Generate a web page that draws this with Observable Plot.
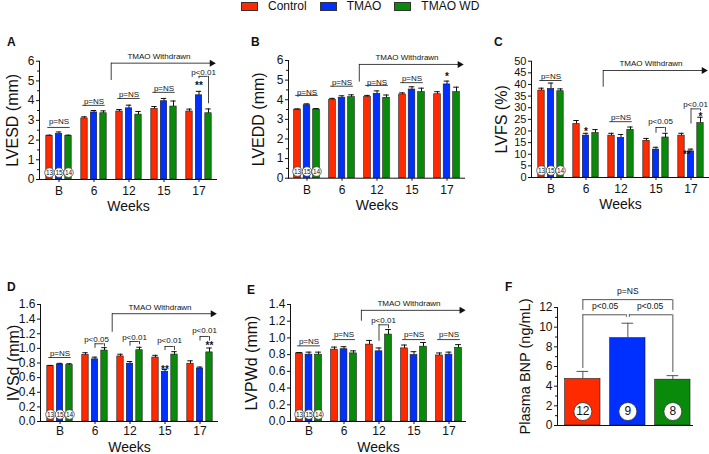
<!DOCTYPE html>
<html><head><meta charset="utf-8">
<script src="https://cdn.jsdelivr.net/npm/d3@7"></script>
<script src="https://cdn.jsdelivr.net/npm/@observablehq/plot@0.6"></script>
<style>
body{margin:0;background:#fff;font-family:"Liberation Sans",Arial,sans-serif;color:#111;}
#root{position:relative;width:709px;height:454px;overflow:hidden;background:#fff;}
.panel{position:absolute;}
.panel svg{overflow:visible;}
.letter{position:absolute;font-weight:bold;font-size:12px;line-height:12px;}
#legend{position:absolute;left:241px;top:0px;display:flex;gap:13px;font-size:12px;line-height:13px;}
.item{display:flex;align-items:center;}
.sw{width:15px;height:7px;border:0.8px solid #333;margin-right:10px;}
</style>
</head><body><div id="root"><div id="legend"></div></div>
<script>
// ---------- data ----------
const weeks = ["B", "6", "12", "15", "17"];
const groups = ["Control", "TMAO", "TMAO WD"];
const groupColors = ["#ff2a00", "#0030ff", "#0a8a0a"];
const baselineN = [13, 15, 14];

// A: LVESD (mm)
const lvesdControl = [2.2, 3.1, 3.45, 3.58, 3.45];
const lvesdTmao    = [2.31, 3.4, 3.61, 3.97, 4.27];
const lvesdTmaoWd  = [2.2, 3.36, 3.29, 3.7, 3.36];
const lvesdErrControl = [0.05, 0.08, 0.1, 0.12, 0.12];
const lvesdErrTmao    = [0.1, 0.1, 0.16, 0.14, 0.2];
const lvesdErrTmaoWd  = [0.05, 0.12, 0.16, 0.28, 0.22];

// B: LVEDD (mm)
const lveddControl = [3.5, 4.0, 4.15, 4.27, 4.28];
const lveddTmao    = [3.72, 4.1, 4.3, 4.52, 4.78];
const lveddTmaoWd  = [3.5, 4.13, 4.1, 4.39, 4.39];
const lveddErrControl = [0.03, 0.07, 0.07, 0.08, 0.13];
const lveddErrTmao    = [0.07, 0.1, 0.15, 0.14, 0.17];
const lveddErrTmaoWd  = [0.05, 0.12, 0.14, 0.2, 0.25];

// C: LVFS (%)
const lvfsControl = [37.4, 23, 18, 15.8, 18];
const lvfsTmao    = [38.1, 18, 17, 12, 11.2];
const lvfsTmaoWd  = [37.1, 19.1, 20.5, 17.2, 23.4];
const lvfsErrControl = [1, 1.5, 1, 1, 1];
const lvfsErrTmao    = [2.5, 1, 1.5, 1, 1];
const lvfsErrTmaoWd  = [1, 1.5, 1.2, 1.8, 2.5];

// D: IVSd (mm)
const ivsdControl = [0.757, 0.91, 0.89, 0.875, 0.79];
const ivsdTmao    = [0.78, 0.85, 0.79, 0.68, 0.725];
const ivsdTmaoWd  = [0.77, 0.97, 0.975, 0.915, 0.945];
const ivsdErrControl = [0.01, 0.03, 0.03, 0.03, 0.04];
const ivsdErrTmao    = [0.015, 0.03, 0.03, 0.03, 0.02];
const ivsdErrTmaoWd  = [0.02, 0.04, 0.04, 0.04, 0.06];

// E: LVPWd (mm)
const lvpwdControl = [0.815, 0.86, 0.92, 0.875, 0.79];
const lvpwdTmao    = [0.80, 0.865, 0.84, 0.795, 0.80];
const lvpwdTmaoWd  = [0.80, 0.815, 1.04, 0.895, 0.88];
const lvpwdErrControl = [0.01, 0.03, 0.05, 0.04, 0.03];
const lvpwdErrTmao    = [0.03, 0.03, 0.04, 0.04, 0.03];
const lvpwdErrTmaoWd  = [0.03, 0.03, 0.06, 0.05, 0.04];

// F: Plasma BNP (ng/mL)
const bnpMean = [4.73, 8.88, 4.66];
const bnpErr  = [0.77, 1.52, 0.41];
const bnpN    = [12, 9, 8];

// ---------- annotations (data units) ----------
const lvesdNS = [{week: "B", line: 2.64, ty: 2.94}, {week: "6", line: 3.76, ty: 3.96}, {week: "12", line: 4.11, ty: 4.31}, {week: "15", line: 4.42, ty: 4.62}];
const lvesdBrackets = [{week: "17", label: "p<0.01", ty: 5.43, top: 5.23, left: 5.11, right: 3.84}];
const lvesdStars = [{week: "17", group: "TMAO", y: 4.76, label: "**"}];
const lvesdArrow = {low: 5.02, high: 5.9, ty: 6.24};

const lveddNS = [{week: "B", line: 4.22, ty: 4.39}, {week: "6", line: 4.69, ty: 4.87}, {week: "12", line: 4.73, ty: 4.9}, {week: "15", line: 4.87, ty: 5.07}];
const lveddBrackets = [];
const lveddStars = [{week: "17", group: "TMAO", y: 5.17, label: "*"}];
const lveddArrow = {low: 4.9, high: 5.8, ty: 6.15};

const lvfsNS = [{week: "B", line: 41.7, ty: 43.4}, {week: "12", line: 24, ty: 25.8}];
const lvfsBrackets = [{week: "15", label: "p<0.05", ty: 24.1, top: 21.5, left: 19, right: 19.5},
                      {week: "17", label: "p<0.01", ty: 31.4, top: 29.5, left: 23, right: 28.5}];
const lvfsStars = [{week: "6", group: "TMAO", y: 19.8, label: "*"}, {week: "17", group: "TMAO WD", y: 26.2, label: "*"},
                   {week: "17", group: "TMAO", y: 9.6, label: "**", shift: -4}];
const lvfsArrow = {low: 38.8, high: 46, ty: 49};

const ivsdNS = [{week: "B", line: 0.875, ty: 0.93}];
const ivsdBrackets = [{week: "6", label: "p<0.05", ty: 1.12, top: 1.063, left: 1.0, right: 1.02, shift: 1.5},
                      {week: "12", label: "p<0.01", ty: 1.15, top: 1.094, left: 1.03, right: 1.05},
                      {week: "15", label: "p<0.01", ty: 1.108, top: 1.026, left: 0.97, right: 0.97},
                      {week: "17", label: "p<0.01", ty: 1.245, top: 1.163, left: 1.1, right: 1.1}];
const ivsdStars = [{week: "15", group: "TMAO", y: 0.707, label: "**"}, {week: "17", group: "TMAO WD", y: 1.036, label: "**"}];
const ivsdArrow = {low: 1.22, high: 1.474, ty: 1.56};

const lvpwdNS = [{week: "B", line: 0.905, ty: 0.96}, {week: "6", line: 0.98, ty: 1.037}, {week: "15", line: 0.98, ty: 1.037}, {week: "17", line: 0.98, ty: 1.037}];
const lvpwdBrackets = [{week: "12", label: "p<0.01", ty: 1.21, top: 1.157, left: 0.96, right: 1.11}];
const lvpwdStars = [];
const lvpwdArrow = {low: 1.2, high: 1.33, ty: 1.415};

// ---------- layout helpers ----------
const STEP = 9.5, BARW = 7;
const offs = [-STEP, 0, STEP];
const INK = "#111";
const FONT = "'Liberation Sans', Arial, sans-serif";
const root = document.getElementById("root");

// legend
const legend = document.getElementById("legend");
groups.forEach((g, i) => {
  const it = document.createElement("div"); it.className = "item";
  const sw = document.createElement("div"); sw.className = "sw"; sw.style.background = groupColors[i];
  const tx = document.createElement("span"); tx.textContent = g;
  it.appendChild(sw); it.appendChild(tx); legend.appendChild(it);
});

function place(node, left, top) {
  const d = document.createElement("div"); d.className = "panel";
  d.style.left = left + "px"; d.style.top = top + "px";
  d.appendChild(node); root.appendChild(d);
}
function letter(t, left, top) {
  const d = document.createElement("div"); d.className = "letter";
  d.style.left = left + "px"; d.style.top = top + "px"; d.textContent = t; root.appendChild(d);
}

function weekPanel(cfg) {
  const fw = cfg.width - cfg.ml - cfg.mr;
  const bw = fw / weeks.length;
  const rows = [];
  groups.forEach((g, gi) => weeks.forEach((w, wi) => rows.push({week: w, group: g, gi, value: cfg.values[gi][wi], err: cfg.errors[gi][wi]})));
  const marks = [];
  marks.push(Plot.axisY({ticks: cfg.major, tickSize: 3, tickPadding: 2, tickFormat: cfg.fmt, fontSize: cfg.tickFont || 12, label: null}));
  if (cfg.minor) marks.push(Plot.axisY({ticks: cfg.minor, tickSize: 2, tickFormat: () => "", label: null}));
  marks.push(Plot.axisX({tickSize: 3, tickPadding: cfg.xPad ?? 4, fontSize: 12, label: null}));
  groups.forEach((g, gi) => {
    const rg = rows.filter(d => d.gi === gi);
    marks.push(Plot.barY(rg, {x: "week", y: "value", fill: groupColors[gi], stroke: "#1a1a1a", strokeWidth: 0.6,
      insetLeft: bw / 2 + offs[gi] - BARW / 2, insetRight: bw / 2 - offs[gi] - BARW / 2}));
    marks.push(Plot.ruleX(rg, {x: "week", y1: "value", y2: d => d.value + d.err, dx: offs[gi], stroke: INK}));
    marks.push(Plot.tickY(rg, {x: "week", y: d => d.value + d.err, insetLeft: bw / 2 + offs[gi] - 3, insetRight: bw / 2 - offs[gi] - 3, stroke: INK}));
  });
  marks.push(Plot.frame({anchor: "left", stroke: INK}));
  marks.push(Plot.ruleY([0], {stroke: INK}));
  // baseline n circles
  baselineN.forEach((n, gi) => {
    marks.push(Plot.dot([n], {x: () => weeks[0], y: () => cfg.circleY, dx: offs[gi], r: 4.8, fill: "white", stroke: "#333", strokeWidth: 0.7}));
    marks.push(Plot.text([n], {x: () => weeks[0], y: () => cfg.circleY, dx: offs[gi], text: d => String(d), fontSize: 6.5, fill: INK}));
  });
  // p=NS lines
  marks.push(Plot.tickY(cfg.ns, {x: "week", y: "line", insetLeft: bw / 2 - STEP - 2, insetRight: bw / 2 - STEP - 2, stroke: INK, strokeWidth: 0.8}));
  marks.push(Plot.text(cfg.ns, {x: "week", y: "ty", text: () => "p=NS", fontSize: 8, fill: INK}));
  // brackets TMAO vs TMAO WD
  cfg.brackets.forEach(b => {
    marks.push(Plot.tickY([b], {x: "week", y: "top", insetLeft: bw / 2, insetRight: bw / 2 - STEP, stroke: INK, strokeWidth: 0.8}));
    marks.push(Plot.ruleX([b], {x: "week", y1: "top", y2: "left", stroke: INK, strokeWidth: 0.8}));
    marks.push(Plot.ruleX([b], {x: "week", y1: "top", y2: "right", dx: STEP, stroke: INK, strokeWidth: 0.8}));
    marks.push(Plot.text([b], {x: "week", y: "ty", text: "label", dx: b.shift ?? 4.5, fontSize: 8, fill: INK}));
  });
  cfg.stars.forEach(s => {
    marks.push(Plot.text([s], {x: "week", y: "y", text: "label", dx: offs[groups.indexOf(s.group)] + (s.shift || 0), fontSize: 10, fontWeight: "bold", fill: INK}));
  });
  // TMAO withdrawn arrow
  const a = cfg.arrow;
  marks.push(Plot.ruleX([a], {x: () => "12", y1: "low", y2: "high", dx: -bw / 2, stroke: INK, strokeWidth: 0.8}));
  marks.push(Plot.ruleY([a], {x1: () => "12", x2: () => "17", y: "high", insetLeft: 0, insetRight: 5, stroke: INK, strokeWidth: 0.8}));
  marks.push(Plot.dot([a], {x: () => "17", y: "high", dx: bw / 2 - 5, symbol: "triangle", r: 2.6, rotate: 90, fill: INK, stroke: "none"}));
  marks.push(Plot.text([a], {x: () => "15", y: "ty", text: () => "TMAO Withdrawn", dx: -5, fontSize: 8, fill: INK}));
  // titles
  marks.push(Plot.text([cfg.ylabel], {frameAnchor: "left", rotate: -90, textAnchor: "middle", lineAnchor: "top", dx: cfg.yOff, fontSize: cfg.yFont || 16, fill: INK}));
  marks.push(Plot.text(["Weeks"], {frameAnchor: "bottom", textAnchor: "middle", lineAnchor: "top", dy: cfg.wOff ?? 21.5, fontSize: 14, fill: INK}));

  const svg = Plot.plot({
    width: cfg.width, height: cfg.height,
    marginLeft: cfg.ml, marginRight: cfg.mr, marginTop: cfg.mt, marginBottom: cfg.mb,
    style: {fontFamily: FONT, color: INK, background: "transparent", overflow: "visible"},
    x: {type: "band", domain: weeks, padding: 0},
    y: {domain: [0, cfg.ymax]},
    marks
  });
  place(svg, cfg.left, cfg.top);
}

weekPanel({left: 0, top: 30, width: 240, height: 190, ml: 39, mr: 23, mt: 30.7, mb: 41,
  ymax: 6, major: d3.range(0, 6.01, 1), minor: d3.range(0.5, 6, 1), fmt: d3.format("d"),
  ylabel: "LVESD (mm)", yOff: -33, circleY: 0.35,
  values: [lvesdControl, lvesdTmao, lvesdTmaoWd], errors: [lvesdErrControl, lvesdErrTmao, lvesdErrTmaoWd],
  ns: lvesdNS, brackets: lvesdBrackets, stars: lvesdStars, arrow: lvesdArrow});

weekPanel({left: 240, top: 30, width: 240, height: 190, ml: 48, mr: 15, mt: 30, mb: 42.3,
  ymax: 6, major: d3.range(0, 6.01, 1), minor: d3.range(0.5, 6, 1), fmt: d3.format("d"),
  ylabel: "LVEDD (mm)", yOff: -36, circleY: 0.34,
  values: [lveddControl, lveddTmao, lveddTmaoWd], errors: [lveddErrControl, lveddErrTmao, lveddErrTmaoWd],
  ns: lveddNS, brackets: lveddBrackets, stars: lveddStars, arrow: lveddArrow});

weekPanel({left: 480, top: 30, width: 229, height: 190, ml: 51, mr: 0, mt: 30.7, mb: 43,
  ymax: 50, major: d3.range(0, 50.1, 5), minor: null, fmt: d3.format("d"), tickFont: 11,
  ylabel: "LVFS (%)", yOff: -36, circleY: 3.0,
  values: [lvfsControl, lvfsTmao, lvfsTmaoWd], errors: [lvfsErrControl, lvfsErrTmao, lvfsErrTmaoWd],
  ns: lvfsNS, brackets: lvfsBrackets, stars: lvfsStars, arrow: lvfsArrow});

weekPanel({left: 0, top: 270, width: 240, height: 184, ml: 40, mr: 22, mt: 34, mb: 33,
  ymax: 1.6, major: d3.range(0, 1.61, 0.2), minor: null, fmt: d3.format(".1f"),
  ylabel: "IVSd (mm)", yOff: -33, circleY: 0.096, wOff: 21, xPad: 2,
  values: [ivsdControl, ivsdTmao, ivsdTmaoWd], errors: [ivsdErrControl, ivsdErrTmao, ivsdErrTmaoWd],
  ns: ivsdNS, brackets: ivsdBrackets, stars: ivsdStars, arrow: ivsdArrow});

weekPanel({left: 240, top: 270, width: 240, height: 184, ml: 50, mr: 14, mt: 34, mb: 33,
  ymax: 1.4, major: d3.range(0, 1.41, 0.2), minor: null, fmt: d3.format(".1f"),
  ylabel: "LVPWd (mm)", yOff: -45, circleY: 0.084, wOff: 21, xPad: 2,
  values: [lvpwdControl, lvpwdTmao, lvpwdTmaoWd], errors: [lvpwdErrControl, lvpwdErrTmao, lvpwdErrTmaoWd],
  ns: lvpwdNS, brackets: lvpwdBrackets, stars: lvpwdStars, arrow: lvpwdArrow});

// F: Plasma BNP
(function () {
  const width = 229, height = 184, ml = 77, mr = 16, mt = 37, mb = 29;
  const bw = (width - ml - mr) / groups.length;
  const c = 1.85; // bar centre offset inside band
  const GRAY = "#555";
  const rows = groups.map((g, i) => ({group: g, value: bnpMean[i], err: bnpErr[i], n: bnpN[i], color: groupColors[i]}));
  const bracket = {inner: 11.26, tick: 11.0, outer: 12.8, outerLeg: 11.7, redLeg: 5.8, greenLeg: 5.4, labelY: 12.1, nsY: 13.7};
  const marks = [
    Plot.axisY({ticks: d3.range(0, 12.1, 2), tickSize: 3, tickPadding: 2, fontSize: 12, label: null}),
    Plot.axisY({ticks: d3.range(1, 12, 2), tickSize: 2, tickFormat: () => "", label: null}),
    Plot.barY(rows, {x: "group", y: "value", fill: "color", stroke: "#1a1a1a", strokeWidth: 0.6, insetLeft: 6.7, insetRight: 3}),
    Plot.ruleX(rows, {x: "group", y1: "value", y2: d => d.value + d.err, dx: c, stroke: GRAY}),
    Plot.tickY(rows, {x: "group", y: d => d.value + d.err, insetLeft: bw / 2 + c - 6, insetRight: bw / 2 - c - 6, stroke: GRAY}),
    Plot.frame({anchor: "left", stroke: INK}),
    Plot.ruleY([0], {stroke: INK}),
    Plot.dot(rows, {x: "group", y: () => 1.42, dx: c, r: 9, fill: "white", stroke: "#333", strokeWidth: 0.8}),
    Plot.text(rows, {x: "group", y: () => 1.42, dx: c, text: d => String(d.n), fontSize: 12, fill: INK}),
    // inner brackets
    Plot.ruleY([bracket], {x1: () => groups[0], x2: () => groups[1], y: "inner", insetLeft: bw / 2 + c, insetRight: bw / 2 - c + 1.5, stroke: GRAY}),
    Plot.ruleY([bracket], {x1: () => groups[1], x2: () => groups[2], y: "inner", insetLeft: bw / 2 + c + 1.5, insetRight: bw / 2 - c, stroke: GRAY}),
    Plot.ruleX([bracket], {x: () => groups[0], y1: "inner", y2: "redLeg", dx: c, stroke: GRAY}),
    Plot.ruleX([bracket], {x: () => groups[2], y1: "inner", y2: "greenLeg", dx: c, stroke: GRAY}),
    Plot.ruleX([bracket], {x: () => groups[1], y1: "inner", y2: "tick", dx: c - 1.5, stroke: GRAY}),
    Plot.ruleX([bracket], {x: () => groups[1], y1: "inner", y2: "tick", dx: c + 1.5, stroke: GRAY}),
    // outer bracket
    Plot.ruleY([bracket], {x1: () => groups[0], x2: () => groups[2], y: "outer", insetLeft: bw / 2 + c, insetRight: bw / 2 - c, stroke: GRAY}),
    Plot.ruleX([bracket], {x: () => groups[0], y1: "outer", y2: "outerLeg", dx: c, stroke: GRAY}),
    Plot.ruleX([bracket], {x: () => groups[2], y1: "outer", y2: "outerLeg", dx: c, stroke: GRAY}),
    Plot.text([bracket], {x: () => groups[1], y: "labelY", dx: -bw / 2 + c, text: () => "p<0.05", fontSize: 8.5, fill: INK}),
    Plot.text([bracket], {x: () => groups[2], y: "labelY", dx: -bw / 2 + c, text: () => "p<0.05", fontSize: 8.5, fill: INK}),
    Plot.text([bracket], {x: () => groups[1], y: "nsY", dx: c, text: () => "p=NS", fontSize: 8.5, fill: INK}),
    Plot.text(["Plasma BNP (ng/mL)"], {frameAnchor: "left", rotate: -90, textAnchor: "middle", lineAnchor: "top", dx: -38, fontSize: 14.5, fill: INK})
  ];
  const svg = Plot.plot({
    width, height, marginLeft: ml, marginRight: mr, marginTop: mt, marginBottom: mb,
    style: {fontFamily: FONT, color: INK, background: "transparent", overflow: "visible"},
    x: {type: "band", domain: groups, padding: 0, axis: null},
    y: {domain: [0, 12]},
    marks
  });
  place(svg, 480, 270);
})();

letter("A", 7, 36); letter("B", 251, 36); letter("C", 494, 36);
letter("D", 7, 281); letter("E", 247, 284); letter("F", 505, 281);
</script>
</body></html>
